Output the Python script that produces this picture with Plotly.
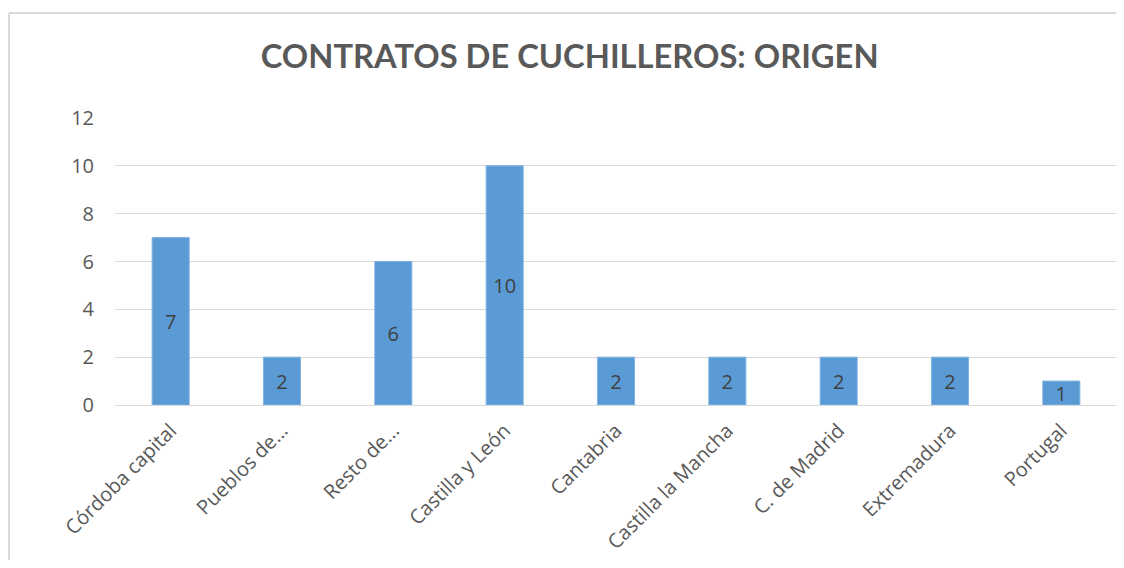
import plotly.graph_objects as go

categories = ["Córdoba capital", "Pueblos de...", "Resto de...", "Castilla y León", "Cantabria",
              "Castilla la Mancha", "C. de Madrid", "Extremadura", "Portugal"]
values = [7, 2, 6, 10, 2, 2, 2, 2, 1]
y_ticks = [0, 2, 4, 6, 8, 10, 12]
title_text = "CONTRATOS DE CUCHILLEROS: ORIGEN"

# page body has an 8px margin; figure coordinates are offset by it
W, H = 1110, 552
ML, MR, MT, MB = 107, 1, 110, 155
pw, ph = W - ML - MR, H - MT - MB

fig = go.Figure(go.Bar(
    x=categories, y=values,
    marker=dict(color="#5B9BD5", line=dict(color="#7FB2E0", width=1)),
    text=[str(v) for v in values],
    textposition="inside", insidetextanchor="middle",
    constraintext="none", textangle=0,
    textfont=dict(family="Open Sans", size=20, color="#404040"),
    hoverinfo="x+y",
))

# chart border (top and left edges visible)
bx = (1 - ML) / pw
by = (H - MB - 5) / ph
fig.add_shape(type="line", xref="paper", yref="paper", x0=bx, x1=1.2, y0=by, y1=by,
              line=dict(color="#D9D9D9", width=2))
fig.add_shape(type="line", xref="paper", yref="paper", x0=bx, x1=bx, y0=by, y1=-1.0,
              line=dict(color="#D9D9D9", width=2))

fig.update_layout(
    width=W, height=H,
    margin=dict(l=ML, r=MR, t=MT, b=MB),
    paper_bgcolor="white", plot_bgcolor="white",
    bargap=0.667,
    showlegend=False,
    title=dict(text=f"<b>{title_text}</b>", x=0.506, xref="container", xanchor="center",
               y=1 - 49 / H, yref="container", yanchor="middle",
               font=dict(family="Lato", size=32.7, color="#595959")),
    xaxis=dict(tickangle=-45, tickfont=dict(family="Open Sans", size=20, color="#595959"),
               showgrid=False, showline=False, ticks="", ticklabelstandoff=9, automargin=False),
    yaxis=dict(range=[0, 12], tickvals=y_ticks, showgrid=True, gridcolor="#D9D9D9", gridwidth=1,
               zeroline=True, zerolinecolor="#D9D9D9", zerolinewidth=1,
               tickfont=dict(family="Open Sans", size=20, color="#595959"),
               ticks="", showline=False, ticklabelstandoff=20, automargin=False),
)

fig.write_html("out.html")
